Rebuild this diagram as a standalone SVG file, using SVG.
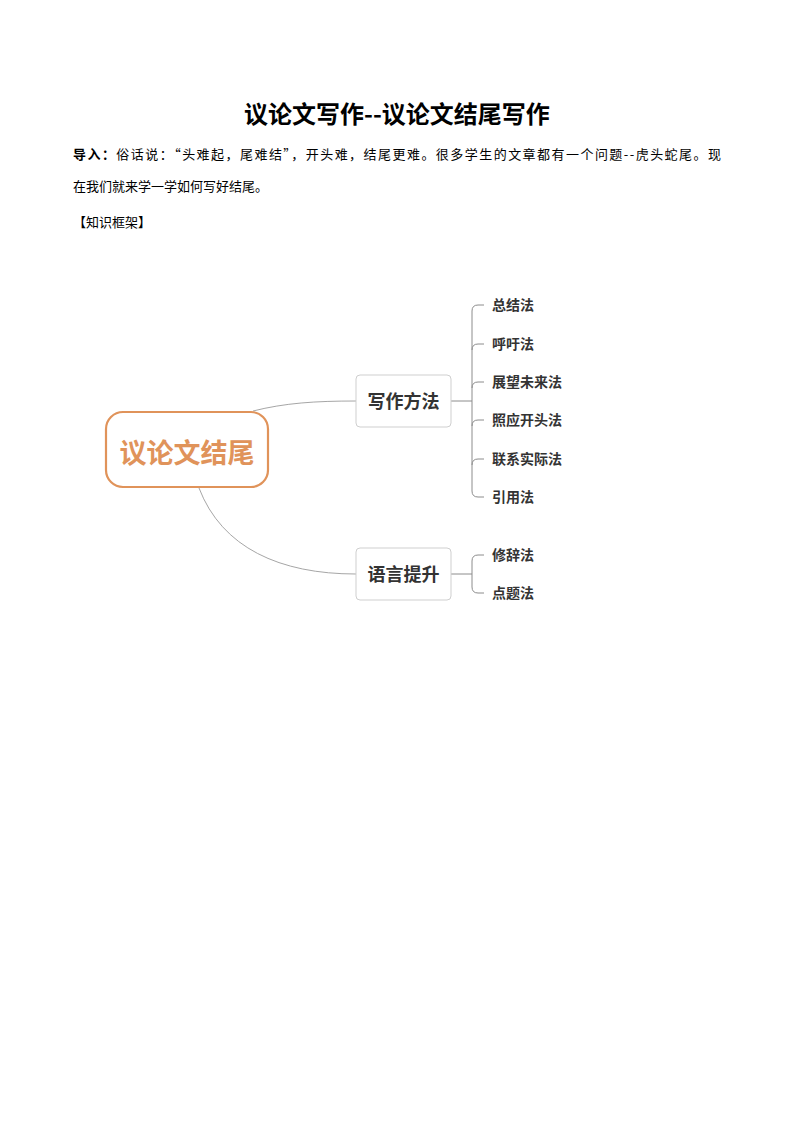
<svg xmlns="http://www.w3.org/2000/svg" width="794" height="1123" viewBox="0 0 794 1123">
<style>
text{font-family:"Noto Sans CJK SC","Liberation Sans",sans-serif;}
.doc{font-size:13px;fill:#000;}
.title{font-size:24px;font-weight:bold;fill:#000;}
.sub{font-size:18px;font-weight:bold;fill:#333;}
.leaf{font-size:14px;font-weight:bold;fill:#333;}
.box{fill:#fff;stroke:#cfcfcf;stroke-width:1;}
.conn{fill:none;stroke:#a6a6a6;stroke-width:1;}
.br{fill:none;stroke:#8c8c8c;stroke-width:1;}
</style>
<rect width="794" height="1123" fill="#fff"/>
<text class="title" x="397" y="123" text-anchor="middle">议论文写作--议论文结尾写作</text>
<text class="doc" x="73" y="159" textLength="648" lengthAdjust="spacing"><tspan font-weight="bold">导入：</tspan>俗话说：“头难起，尾难结”，开头难，结尾更难。很多学生的文章都有一个问题--虎头蛇尾。现</text>
<text class="doc" x="73" y="191">在我们就来学一学如何写好结尾。</text>
<text class="doc" x="73" y="227">【知识框架】</text>
<g id="connectors">
<path class="conn" d="M253,411 C285,403 315,401 356,401"/>
<path class="conn" d="M199,488 C222,548 280,574 356,574"/>
<path class="br" d="M451,401 H472"/>
<path class="br" d="M472,311 V491"/>
<path class="br" d="M472,311 Q472,305 478,305 H484"/>
<path class="br" d="M472,350 Q472,344 478,344 H484"/>
<path class="br" d="M472,388 Q472,382 478,382 H484"/>
<path class="br" d="M472,426 Q472,420 478,420 H484"/>
<path class="br" d="M472,465 Q472,459 478,459 H484"/>
<path class="br" d="M472,491 Q472,497 478,497 H484"/>
<path class="br" d="M451,574 H472"/>
<path class="br" d="M472,561 V587"/>
<path class="br" d="M472,561 Q472,555 478,555 H484"/>
<path class="br" d="M472,587 Q472,593 478,593 H484"/>
</g>
<g id="root">
<rect x="106" y="412" width="162" height="75" rx="17" fill="#fff" stroke="#E0935A" stroke-width="2.2"/>
<text x="187" y="463" text-anchor="middle" font-size="27" font-weight="bold" fill="#E0935A">议论文结尾</text>
</g>
<g id="n-xiezuo">
<rect class="box" x="356" y="375" width="95" height="52" rx="4"/>
<text class="sub" x="403.5" y="408" text-anchor="middle">写作方法</text>
</g>
<g id="n-yuyan">
<rect class="box" x="356" y="548" width="95" height="52" rx="4"/>
<text class="sub" x="403.5" y="581" text-anchor="middle">语言提升</text>
</g>
<g id="l1"><text class="leaf" x="492" y="310">总结法</text></g>
<g id="l2"><text class="leaf" x="492" y="349">呼吁法</text></g>
<g id="l3"><text class="leaf" x="492" y="387">展望未来法</text></g>
<g id="l4"><text class="leaf" x="492" y="425">照应开头法</text></g>
<g id="l5"><text class="leaf" x="492" y="464">联系实际法</text></g>
<g id="l6"><text class="leaf" x="492" y="502">引用法</text></g>
<g id="l7"><text class="leaf" x="492" y="560">修辞法</text></g>
<g id="l8"><text class="leaf" x="492" y="598">点题法</text></g>
</svg>
